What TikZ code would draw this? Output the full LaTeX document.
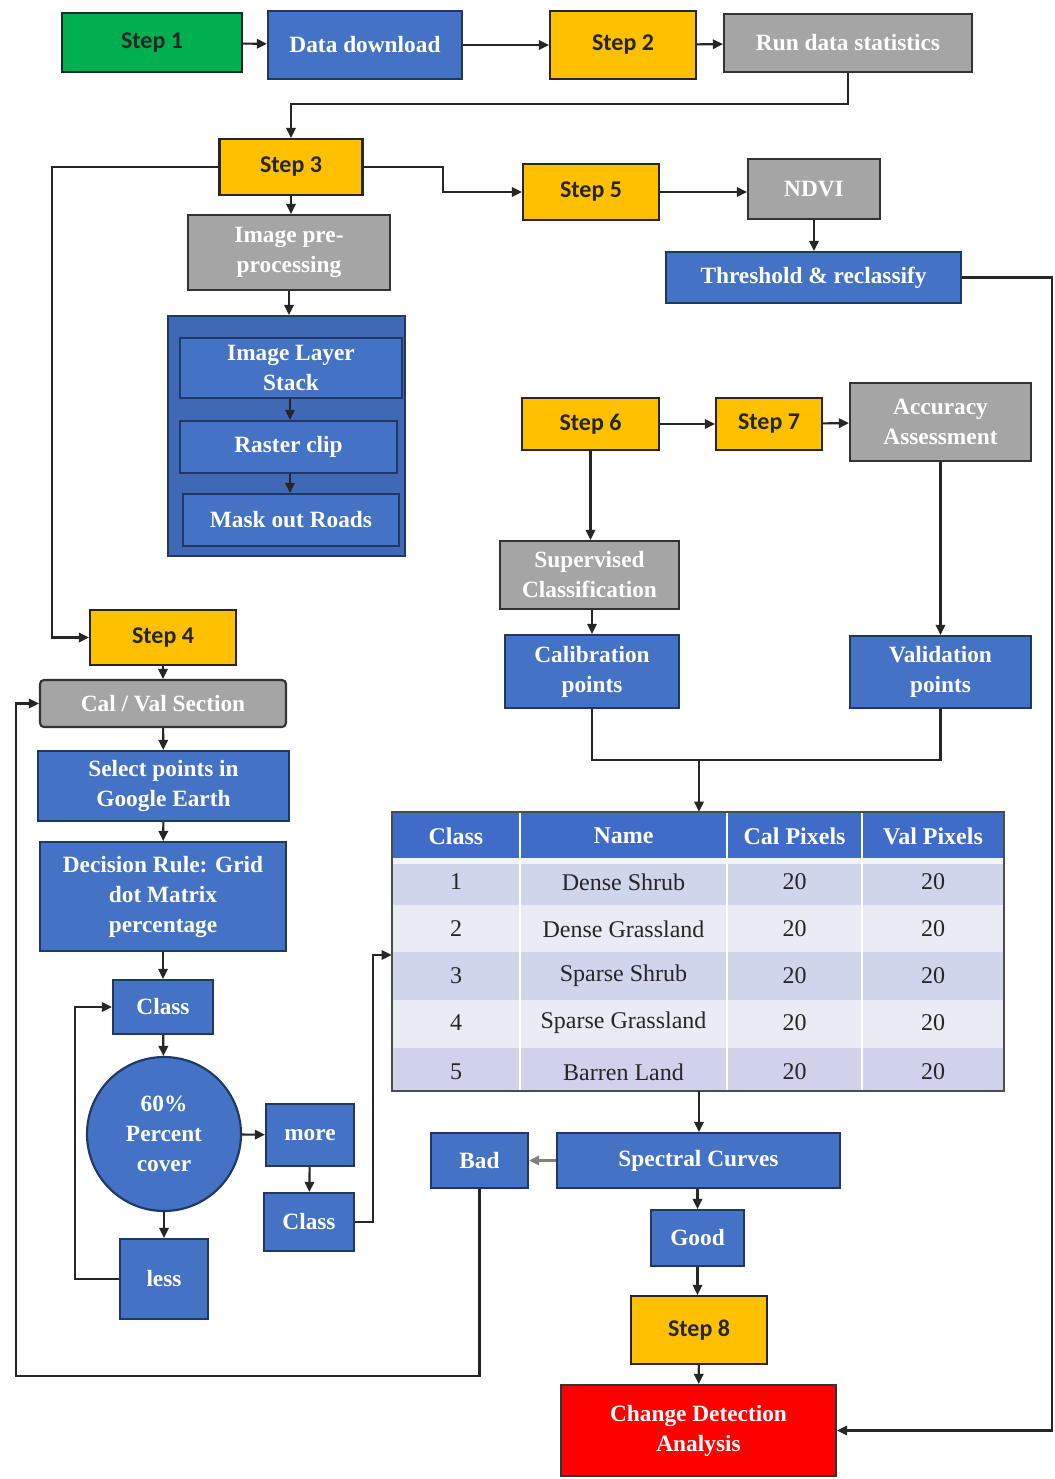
\documentclass[tikz,border=0pt]{standalone}
\usepackage{fontspec}
\setmainfont{Liberation Serif}
\newfontfamily\stepfont{Carlito}
\usetikzlibrary{arrows.meta}
\definecolor{cgreen}{HTML}{00B050}
\definecolor{cblue}{HTML}{4472C4}
\definecolor{cyellow}{HTML}{FFC000}
\definecolor{cgray}{HTML}{A5A5A5}
\definecolor{cred}{HTML}{FF0000}
\definecolor{navy}{HTML}{1F3864}
\definecolor{rowa}{HTML}{CFD5EA}
\definecolor{rowb}{HTML}{E9EBF5}
\definecolor{rowc}{HTML}{D0D2EC}
\definecolor{hdr}{HTML}{3F6CC8}
\newcommand\bxfont{\fontsize{17.5}{22.5}\selectfont\bfseries}
\newcommand\stfont{\stepfont\fontsize{18}{20}\selectfont\bfseries}
\newcommand\tbfont{\fontsize{18}{20}\selectfont}
\begin{document}
\begin{tikzpicture}[x=0.75pt,y=-0.75pt,
  wh/.style 2 args={minimum width={#1*0.75pt}, minimum height={#2*0.75pt}},
  base/.style={draw=black!85, line width=1.6pt, inner sep=0pt, align=center},
  bluebox/.style={base, fill=cblue, draw=navy, text=white, font=\bxfont},
  graybox/.style={base, fill=cgray, draw=black!80, text=white, font=\bxfont},
  stepbox/.style={base, fill=cyellow, text=black!85, font=\stfont},
  ln/.style={line width=1.6pt, black!85},
  arr/.style={ln, -{Triangle[length=7.5pt,width=7pt]}}]
\useasboundingbox (0,0) rectangle (1054,1479);
\fill[white] (0,0) rectangle (1054,1479);

% top row
\node[stepbox, fill=cgreen, wh={180}{59}] (s1) at (152,42.5) {Step 1};
\node[bluebox, wh={194}{68}] (dd) at (365,45) {Data download};
\node[stepbox, wh={146}{68}] (s2) at (623,45) {Step 2};
\node[graybox, wh={248}{58}] (rds) at (848,43) {Run data statistics};

% step 3 / 5
\node[stepbox, wh={143}{56}] (s3) at (291,167) {Step 3};
\node[stepbox, wh={136}{56}] (s5) at (591,192) {Step 5};
\node[graybox, wh={132}{60}] (ndvi) at (814,189) {NDVI};
\node[bluebox, wh={295}{51}] (thr) at (813.5,277.5) {Threshold \& reclassify};
\node[graybox, wh={202}{75}] (ipp) at (289,252.5) {Image pre-\\processing};

% container
\node[base, fill=cblue!92!black, draw=navy, wh={237}{240}] (cont) at (286.5,436) {};
\node[bluebox, wh={222}{60}] (ils) at (291,368) {Image Layer\\Stack};
\node[bluebox, wh={217}{52}] (rc) at (288.5,447) {Raster clip};
\node[bluebox, wh={216}{52}] (mor) at (291,520) {Mask out Roads};

% step 6 / 7
\node[stepbox, wh={137}{52}] (s6) at (590.5,424) {Step 6};
\node[stepbox, wh={106}{52}] (s7) at (769,424) {Step 7};
\node[graybox, wh={181}{78}] (acc) at (940.5,422) {Accuracy\\Assessment};
\node[graybox, wh={179}{68}] (sup) at (589.5,575) {Supervised\\Classification};
\node[bluebox, wh={174}{73}] (cal) at (592,671.5) {Calibration\\points};
\node[bluebox, wh={181}{72}] (val) at (940.5,672) {Validation\\points};

% left column
\node[stepbox, wh={146}{55}] (s4) at (163,637.5) {Step 4};
\node[graybox, rounded corners=3pt, wh={246}{47}] (cv) at (163,703.5) {Cal / Val Section};
\node[bluebox, wh={251}{70}] (sel) at (163.5,786) {Select points in\\Google Earth};
\node[bluebox, wh={246}{109}] (dr) at (163,896.5) {Decision Rule: Grid\\dot Matrix\\percentage};
\node[bluebox, wh={100}{54}] (c1) at (163,1007) {Class};
\node[bluebox, circle, minimum size={154*0.75pt}] (circ) at (164,1134) {60\%\\Percent\\cover};
\node[bluebox, wh={88}{62}] (more) at (310,1135) {more};
\node[bluebox, wh={90}{58}] (c2) at (309,1222) {Class};
\node[bluebox, wh={88}{80}] (less) at (164,1279) {less};

% bottom
\node[bluebox, wh={283}{55}] (sc) at (698.5,1160.5) {Spectral Curves};
\node[bluebox, wh={97}{55}] (bad) at (479.5,1160.5) {Bad};
\node[bluebox, wh={93}{56}] (good) at (697.5,1238) {Good};
\node[stepbox, wh={136}{68}] (s8) at (699,1330) {Step 8};
\node[base, fill=cred, draw=black!80, text=white, font=\bxfont, wh={275}{91}] (cda) at (698.5,1430.5) {Change Detection\\Analysis};

% table
\node[wh={612}{279}, inner sep=0pt] (tab) at (698,951.5) {};
\fill[hdr] (392,812) rectangle (1004,858);
\fill[rowa] (392,858) rectangle (1004,905);
\fill[rowb] (392,905) rectangle (1004,952);
\fill[rowa] (392,952) rectangle (1004,1000);
\fill[rowb] (392,1000) rectangle (1004,1048);
\fill[rowc] (392,1048) rectangle (1004,1091);
\fill[white!70!rowa] (392,858) rectangle (1004,864);
\foreach \xx in {520,727,862}{\draw[white, line width=1pt] (\xx,812) -- (\xx,1091);}
\draw[black!70, line width=1.6pt] (392,812) rectangle (1004,1091);
\foreach \t/\xx in {Class/456, Name/623.5, Cal Pixels/794.5, Val Pixels/933}
  {\node[text=white, font=\tbfont\bfseries] at (\xx,836) {\t};}
\foreach \n/\nm/\yy in {1/Dense Shrub/882, 2/Dense Grassland/929, 3/Sparse Shrub/976, 4/Sparse Grassland/1023, 5/Barren Land/1072}{
  \node[font=\tbfont, text=black!85] at (456,\yy) {\n};
  \node[font=\tbfont, text=black!85] at (623.5,\yy) {\nm};
  \node[font=\tbfont, text=black!85] at (794.5,\yy) {20};
  \node[font=\tbfont, text=black!85] at (933,\yy) {20};
}

% connectors
\draw[arr] (s1) -- (dd);
\draw[arr] (dd) -- (s2);
\draw[arr] (s2) -- (rds);
\draw[arr] (rds.south) -- (848,104) -| (s3.north);
\draw[arr] (s3.west) -- (52,167) |- (s4.west);
\draw[arr] (s3.east) -- (443,167) |- (s5.west);
\draw[arr] (s5.east) -- (ndvi.west |- s5.east);
\draw[arr] (ndvi.south) -- (thr.north -| ndvi.south);
\draw[arr] (thr.east) -- (1052,277.5) |- (cda.east);
\draw[arr] (s3.south) -- (ipp.north -| s3.south);
\draw[arr] (ipp.south) -- (cont.north -| ipp.south);
\draw[arr] (ils.south -| 290,0) -- (rc.north -| 290,0);
\draw[arr] (rc.south -| 290,0) -- (mor.north -| 290,0);

\draw[arr] (s6) -- (s7);
\draw[arr] (s7) -- (acc);
\draw[arr] (s6.south) -- (sup.north -| s6.south);
\draw[arr] (sup.south -| cal.south) -- (cal.north);
\draw[arr] (acc.south) -- (val.north);
\draw[ln] (cal.south) -- (592,760) -| (val.south);
\draw[arr] (699,760) -- (tab.north -| 699,0);

\draw[arr] (s4) -- (cv);
\draw[arr] (cv) -- (sel);
\draw[arr] (sel) -- (dr);
\draw[arr] (dr) -- (c1);
\draw[arr] (c1) -- (circ);
\draw[arr] (circ) -- (less);
\draw[arr] (circ) -- (more);
\draw[arr] (more) -- (c2);
\draw[arr] (c2.east) -- (373,1222) |- (tab.west |- 0,955);
\draw[arr] (less.west) -- (75,1279) |- (c1.west);

\draw[arr] (tab.south -| 699,0) -- (sc.north -| 699,0);
\draw[arr, black!50] (sc) -- (bad);
\draw[arr] (bad.south) |- (16,1376) |- (cv.west);
\draw[arr] (sc.south -| good.north) -- (good.north);
\draw[arr] (good) -- (s8.north -| good.south);
\draw[arr] (s8) -- (cda);
\end{tikzpicture}
\end{document}
